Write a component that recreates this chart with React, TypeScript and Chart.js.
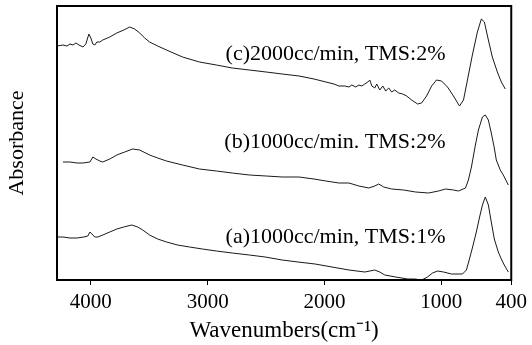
import React, { useEffect, useRef } from 'react';
import { Chart, registerables } from 'chart.js';

Chart.register(...registerables);

const FONT = '"Liberation Serif", "Times New Roman", serif';

const xTicks = [4000, 3000, 2000, 1000, 400];

// (c) 2000cc/min, TMS:2%
const cWn = [4290, 4239, 4205, 4179, 4153, 4128, 4102, 4068, 4043, 4017, 4000, 3983, 3966, 3949, 3923, 3898, 3838, 3778, 3718, 3667, 3625, 3582, 3539, 3497, 3428, 3352, 3215, 3070, 2925, 2789, 2643, 2499, 2362, 2217, 2089, 1987, 1918, 1876, 1825, 1790, 1765, 1731, 1705, 1680, 1654, 1628, 1611, 1594, 1569, 1552, 1526, 1500, 1475, 1449, 1424, 1398, 1364, 1330, 1296, 1253, 1202, 1168, 1125, 1082, 1040, 997, 946, 895, 843, 809, 775, 733, 690, 656, 630, 596, 562, 519, 485, 451];
const cAbs = [234, 235, 234, 236, 235, 237, 235, 233, 236, 246, 242, 236, 235, 238, 238, 240, 243, 247, 250, 253, 251, 247, 242, 238, 234, 230, 223, 218, 215, 212, 210, 208, 206, 204, 201, 198, 196, 194, 194, 193, 195, 193, 195, 194, 196, 198, 200, 194, 192, 196, 190, 194, 189, 192, 188, 190, 187, 186, 184, 180, 176, 177, 184, 194, 200, 199, 193, 184, 174, 180, 200, 225, 248, 261, 258, 240, 223, 208, 198, 191];

// (b) 1000cc/min, TMS:2%
const bWn = [4239, 4179, 4119, 4068, 4008, 3983, 3957, 3923, 3898, 3838, 3778, 3710, 3642, 3582, 3497, 3428, 3352, 3215, 3070, 2925, 2789, 2643, 2499, 2362, 2217, 2089, 1987, 1876, 1790, 1705, 1620, 1569, 1535, 1492, 1424, 1322, 1219, 1108, 1023, 963, 895, 852, 792, 767, 741, 707, 681, 647, 622, 596, 571, 545, 528, 494, 468, 425];
const bAbs = [118, 118, 117, 117, 118, 123, 121, 119, 118, 121, 125, 128, 131, 130, 125, 122, 119, 115, 111, 109, 107, 105, 104, 103, 103, 101, 99, 97, 97, 94, 92, 94, 96, 93, 91, 90, 88, 87, 89, 91, 90, 89, 92, 100, 113, 135, 150, 163, 165, 160, 147, 132, 120, 110, 105, 95];

// (a) 1000cc/min, TMS:1%
const aWn = [4290, 4239, 4179, 4119, 4060, 4026, 4008, 3991, 3966, 3940, 3898, 3838, 3778, 3718, 3650, 3599, 3556, 3497, 3428, 3352, 3258, 3155, 3045, 2925, 2789, 2643, 2507, 2362, 2226, 2080, 1935, 1790, 1654, 1569, 1526, 1483, 1390, 1287, 1227, 1168, 1117, 1074, 1031, 980, 912, 818, 784, 758, 733, 699, 673, 647, 622, 596, 571, 545, 511, 485, 460, 425];
const aAbs = [43, 43, 42, 42, 43, 44, 48, 46, 43, 43, 45, 48, 51, 53, 55, 53, 50, 45, 41, 38, 35, 33, 31, 29, 27, 25, 23, 20, 18, 16, 13, 10, 8, 10, 8, 5, 3, 1, 1, 0, 3, 7, 9, 8, 6, 6, 10, 21, 32, 48, 62, 75, 83, 75, 58, 41, 28, 21, 15, 8];

const seriesNames = ['(c)2000cc/min, TMS:2%', '(b)1000cc/min. TMS:2%', '(a)1000cc/min, TMS:1%'];
const labelAnchorWn = 963;
const labelAnchorAbs = [220, 132, 37];

const toPts = (xs: number[], ys: number[]) => xs.map((x, i) => ({ x, y: ys[i] }));

const framePlugin = {
  id: 'frameAndLabels',
  afterDraw(chart: any) {
    const { ctx, chartArea, scales } = chart;
    ctx.save();
    ctx.strokeStyle = '#000';
    ctx.lineWidth = 2;
    ctx.strokeRect(chartArea.left, chartArea.top, chartArea.right - chartArea.left, chartArea.bottom - chartArea.top);
    ctx.fillStyle = '#000';
    ctx.font = `22px ${FONT}`;
    ctx.textAlign = 'right';
    ctx.textBaseline = 'alphabetic';
    seriesNames.forEach((t, i) => {
      ctx.fillText(t, scales.x.getPixelForValue(labelAnchorWn), scales.y.getPixelForValue(labelAnchorAbs[i]));
    });
    ctx.restore();
  },
};

export default function App() {
  const ref = useRef<HTMLCanvasElement>(null);
  useEffect(() => {
    if (!ref.current) return;
    const mk = (xs: number[], ys: number[]) => ({
      data: toPts(xs, ys),
      borderColor: '#1a1a1a',
      borderWidth: 1,
      pointRadius: 0,
      tension: 0,
      fill: false,
    });
    const chart = new Chart(ref.current, {
      type: 'line',
      data: { datasets: [mk(cWn, cAbs), mk(bWn, bAbs), mk(aWn, aAbs)] },
      options: {
        animation: false,
        responsive: false,
        devicePixelRatio: 1,
        layout: { padding: { top: 6, right: 19, left: 0, bottom: 0 } },
        plugins: { legend: { display: false }, tooltip: { enabled: false } },
        scales: {
          x: {
            type: 'linear',
            reverse: true,
            min: 400,
            max: 4290,
            afterBuildTicks: (s: any) => {
              s.ticks = xTicks.map((v) => ({ value: v }));
            },
            afterFit: (s: any) => {
              s.height = 65;
            },
            ticks: {
              color: '#000',
              font: { family: FONT, size: 21 },
              padding: 5,
              maxRotation: 0,
              autoSkip: false,
              callback: (v: any) => String(v),
            },
            grid: { display: true, drawOnChartArea: false, drawTicks: true, tickLength: 5, color: '#000', lineWidth: 1 },
            border: { display: false },
            title: {
              display: true,
              text: 'Wavenumbers(cm⁻¹)',
              color: '#000',
              font: { family: FONT, size: 23 },
              padding: { top: 0, bottom: 0 },
            },
          },
          y: {
            min: 0,
            max: 274,
            afterFit: (s: any) => {
              s.width = 57;
            },
            ticks: { display: false },
            grid: { display: false },
            border: { display: false },
            title: {
              display: true,
              text: 'Absorbance',
              color: '#000',
              font: { family: FONT, size: 22 },
              padding: { top: 4, bottom: 0 },
            },
          },
        },
      },
      plugins: [framePlugin],
    } as any);
    return () => chart.destroy();
  }, []);
  return (
    <div style={{ position: 'fixed', left: 0, top: 0, width: 532, height: 345, background: '#fff' }}>
      <canvas ref={ref} width={532} height={345} style={{ display: 'block' }} />
    </div>
  );
}
